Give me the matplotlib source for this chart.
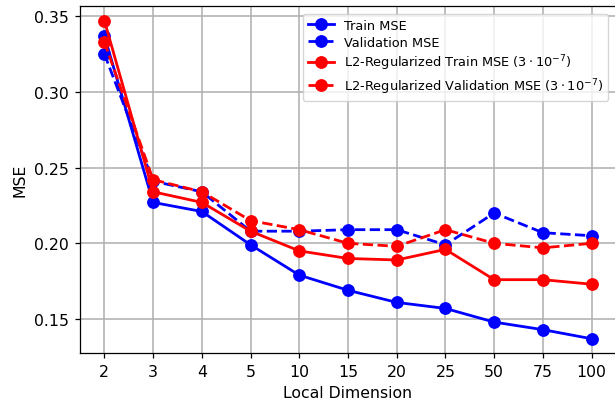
import matplotlib
matplotlib.use("Agg")
import matplotlib.pyplot as plt

# ── Data ──
dims = ["2", "3", "4", "5", "10", "15", "20", "25", "50", "75", "100"]
train_mse = [0.337, 0.227, 0.221, 0.199, 0.179, 0.169, 0.161, 0.157, 0.148, 0.143, 0.137]
val_mse = [0.325, 0.241, 0.234, 0.208, 0.208, 0.209, 0.209, 0.199, 0.220, 0.207, 0.205]
l2_train_mse = [0.347, 0.234, 0.227, 0.208, 0.195, 0.190, 0.189, 0.196, 0.176, 0.176, 0.173]
l2_val_mse = [0.333, 0.242, 0.234, 0.215, 0.209, 0.200, 0.198, 0.209, 0.200, 0.197, 0.200]

S = 1.13  # reference looks like a slightly upscaled default figure

fig = plt.figure(figsize=(6.15, 4.02), dpi=100)
ax = fig.add_axes([80 / 615, 0.119, 536 / 615, 0.8635])

x = range(len(dims))
style = dict(lw=2, ms=8.2)
ax.plot(x, train_mse, "o-", color="blue", label="Train MSE", **style)
ax.plot(x, val_mse, "o--", color="blue", label="Validation MSE", **style)
ax.plot(x, l2_train_mse, "o-", color="red",
        label=r"L2-Regularized Train MSE $(3\cdot10^{-7})$", **style)
ax.plot(x, l2_val_mse, "o--", color="red",
        label=r"L2-Regularized Validation MSE $(3\cdot10^{-7})$", **style)

ax.set_xticks(list(x))
ax.set_xticklabels(dims)
ax.set_xlim(-0.5, 10.5)
ax.set_ylim(0.1275, 0.3566)
ax.set_yticks([0.15, 0.20, 0.25, 0.30, 0.35])
ax.grid(True, color="#b0b0b0", lw=1 * S)
ax.set_axisbelow(True)
for sp in ax.spines.values():
    sp.set_linewidth(0.8 * S)
ax.tick_params(labelsize=10 * S, width=0.8 * S, length=3.5 * S, pad=3.5 * S)
ax.set_xlabel("Local Dimension", fontsize=10 * S, labelpad=4 * S)
ax.set_ylabel("MSE", fontsize=10 * S, labelpad=4 * S)
ax.legend(loc="upper right", fontsize=8.2 * S, labelspacing=0.3,
          borderaxespad=0.6)

fig.savefig("out.png", dpi=100)
